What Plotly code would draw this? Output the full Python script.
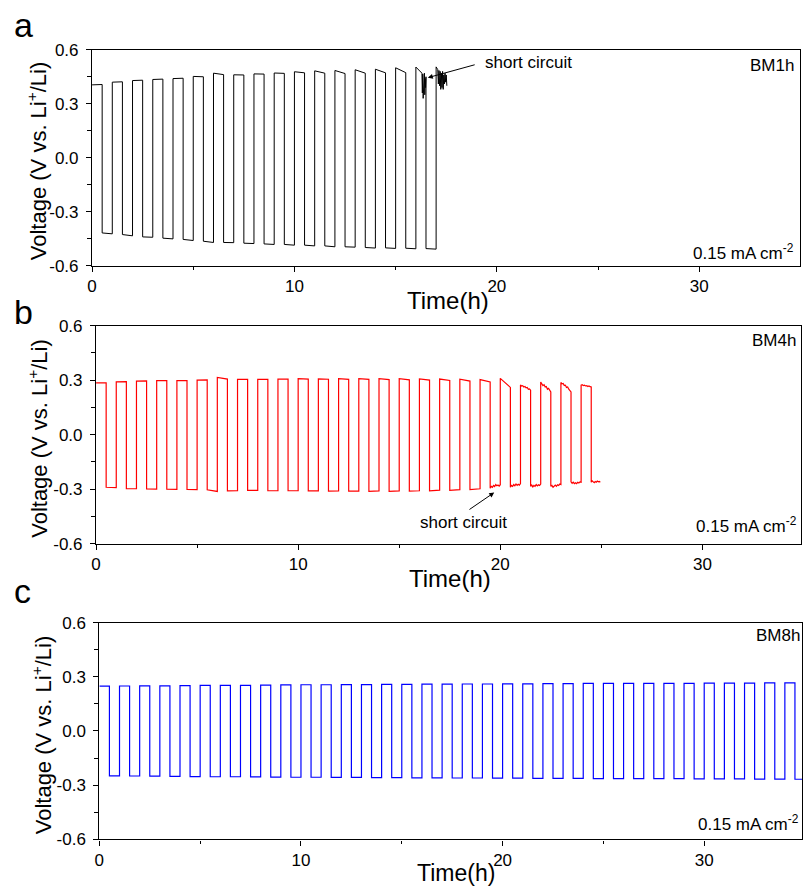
import plotly.graph_objects as go

W, H = 803, 904
FONT = "Liberation Sans, Arial, sans-serif"

# ---------------- data ----------------
HALF = 0.5  # half-cycle duration (h)

# Panel a : BM1h (black)
a_top_start = [0.405, 0.420, 0.429, 0.435, 0.440, 0.452, 0.470, 0.461, 0.466, 0.471,
               0.478, 0.483, 0.485, 0.489, 0.492, 0.500]
a_top_end = [0.407, 0.422, 0.431, 0.437, 0.442, 0.450, 0.462, 0.460, 0.465, 0.469,
             0.472, 0.470, 0.468, 0.470, 0.472, 0.473]
a_bot_start = [-0.418, -0.427, -0.440, -0.447, -0.454, -0.464, -0.471, -0.475, -0.479, -0.482,
               -0.486, -0.490, -0.495, -0.499, -0.501, -0.503]
a_bot_end = [-0.423, -0.434, -0.442, -0.451, -0.460, -0.471, -0.472, -0.477, -0.482, -0.486,
             -0.490, -0.495, -0.497, -0.502, -0.504, -0.506]
# last cycles with the short circuit
a_tail_t = [16.0, 16.30, 16.32, 16.34, 16.36, 16.38, 16.40, 16.42, 16.44, 16.46, 16.48, 16.50,
            16.50, 17.0, 17.0, 17.08, 17.11, 17.14, 17.17, 17.20, 17.23, 17.26, 17.29, 17.32,
            17.35, 17.38, 17.41, 17.44, 17.47, 17.50, 17.53]
a_tail_v = [0.504, 0.470, 0.36, 0.465, 0.33, 0.45, 0.37, 0.47, 0.35, 0.44, 0.39, 0.45,
            -0.505, -0.508, 0.505, 0.490, 0.41, 0.485, 0.40, 0.48, 0.38, 0.47, 0.39, 0.48,
            0.38, 0.46, 0.41, 0.47, 0.42, 0.46, 0.40]

# Panel b : BM4h (red)
b_top_start = [0.285, 0.291, 0.295, 0.297, 0.297, 0.300, 0.315, 0.304, 0.304, 0.306,
               0.308, 0.307, 0.308, 0.308, 0.308, 0.308, 0.307, 0.306, 0.305, 0.303]
b_top_end = [0.285, 0.292, 0.296, 0.297, 0.298, 0.301, 0.306, 0.305, 0.305, 0.306,
             0.306, 0.305, 0.304, 0.304, 0.303, 0.302, 0.300, 0.298, 0.295, 0.290]
b_bot_start = [-0.290, -0.297, -0.299, -0.300, -0.302, -0.304, -0.310, -0.307, -0.309, -0.309,
               -0.310, -0.311, -0.311, -0.312, -0.312, -0.311, -0.310, -0.307, -0.303]
b_bot_end = [-0.292, -0.298, -0.300, -0.301, -0.303, -0.313, -0.309, -0.307, -0.308, -0.309,
             -0.310, -0.310, -0.311, -0.310, -0.310, -0.309, -0.306, -0.303, -0.298]
# noisy plateaus after the short circuit (cycles 19..24)
b_late_bot = [
    [-0.295, -0.285, -0.290, -0.280, -0.286, -0.275, -0.282, -0.278, -0.284, -0.276],
    [-0.290, -0.280, -0.285, -0.275, -0.282, -0.272, -0.280, -0.274, -0.278, -0.270],
    [-0.285, -0.278, -0.288, -0.280, -0.285, -0.275, -0.282, -0.276, -0.280, -0.272],
    [-0.285, -0.280, -0.290, -0.282, -0.278, -0.285, -0.276, -0.280, -0.272, -0.275],
    [-0.260, -0.268, -0.262, -0.270, -0.265, -0.270, -0.262, -0.266, -0.260, -0.262],
    [-0.262, -0.255, -0.260, -0.265, -0.258, -0.262, -0.256, -0.260, -0.258, -0.262],
]
b_late_top = [
    [0.310, 0.305, 0.300, 0.290, 0.285, 0.280, 0.275, 0.270, 0.265, 0.260],
    [0.273, 0.268, 0.270, 0.262, 0.265, 0.258, 0.260, 0.250, 0.252, 0.245],
    [0.290, 0.283, 0.270, 0.275, 0.262, 0.265, 0.250, 0.255, 0.240, 0.235],
    [0.287, 0.280, 0.282, 0.270, 0.272, 0.260, 0.262, 0.250, 0.245, 0.235],
    [0.272, 0.275, 0.270, 0.272, 0.268, 0.270, 0.265, 0.268, 0.264, 0.262],
]
b_last_bot_len = 0.45  # last plateau duration (h)

# Panel c : BM8h (blue)
c_top = [0.248, 0.249, 0.250, 0.250, 0.251, 0.252, 0.253, 0.253, 0.254, 0.255,
         0.256, 0.256, 0.257, 0.257, 0.258, 0.258, 0.259, 0.259, 0.260, 0.260,
         0.261, 0.261, 0.262, 0.262, 0.263, 0.263, 0.263, 0.264, 0.264, 0.264,
         0.265, 0.265, 0.265, 0.266, 0.266]
c_bot = [-0.248, -0.249, -0.250, -0.251, -0.252, -0.253, -0.253, -0.254, -0.255, -0.256,
         -0.256, -0.257, -0.257, -0.258, -0.258, -0.259, -0.259, -0.260, -0.260, -0.261,
         -0.261, -0.262, -0.262, -0.262, -0.263, -0.263, -0.264, -0.264, -0.264, -0.265,
         -0.265, -0.265, -0.266, -0.266, -0.267]

y_tickvals = [-0.6, -0.3, 0.0, 0.3, 0.6]
y_ticktext = ["-0.6", "-0.3", "0.0", "0.3", "0.6"]
y_minor = [-0.45, -0.15, 0.15, 0.45]
x_tickvals = [0, 10, 20, 30]
x_ticktext = ["0", "10", "20", "30"]
x_minor = [5, 15, 25]


# ---------------- helpers ----------------
def square_wave(top_s, top_e, bot_s, bot_e):
    t, v = [], []
    for i in range(len(top_s)):
        t0 = 2 * i * HALF
        t += [t0, t0 + HALF]
        v += [top_s[i], top_e[i]]
        if i < len(bot_s):
            t += [t0 + HALF, t0 + 2 * HALF]
            v += [bot_s[i], bot_e[i]]
    return t, v


def spread(t0, dur, vals):
    n = len(vals)
    return [t0 + dur * j / (n - 1) for j in range(n)], list(vals)


# panel a
ta, va = square_wave(a_top_start, a_top_end, a_bot_start, a_bot_end)
ta += a_tail_t
va += a_tail_v

# panel b
tb, vb = square_wave(b_top_start, b_top_end, b_bot_start, b_bot_end)
first = len(b_bot_start)  # cycle 19
for k, bot in enumerate(b_late_bot):
    cyc = first + k
    dur = HALF if k < len(b_late_top) else b_last_bot_len
    tt, vv = spread(cyc + HALF, dur, bot)
    tb += tt
    vb += vv
    if k < len(b_late_top):
        tt, vv = spread(cyc + 1, HALF, b_late_top[k])
        tb += tt
        vb += vv

# panel c
tc, vc = square_wave(c_top, c_top, c_bot, c_bot)

# ---------------- figure ----------------
fig = go.Figure()
fig.add_trace(go.Scatter(x=ta, y=va, mode="lines", line=dict(color="black", width=1),
                         xaxis="x", yaxis="y", showlegend=False))
fig.add_trace(go.Scatter(x=tb, y=vb, mode="lines", line=dict(color="#ff0000", width=1.2),
                         xaxis="x2", yaxis="y2", showlegend=False))
fig.add_trace(go.Scatter(x=tc, y=vc, mode="lines", line=dict(color="#0000ff", width=1.2),
                         xaxis="x3", yaxis="y3", showlegend=False))

# screen-pixel -> paper fraction (calibrated for the capture)
SX, OX = 0.992, 4.0
SY, OY = 0.984, 6.0


def px_x(p):
    return ((p - OX) / SX) / W


def px_y(p):
    return 1 - ((p - OY) / SY) / H


panels = [
    # (x0, x1, ytop, ybot, xmax)  in screen pixels of the reference
    (91, 799, 47, 264, 35.0),
    (95, 800, 324.3, 543.3, 34.9),
    (98.3, 803, 622.7, 840.7, 34.85),
]

axis_common = dict(showgrid=False, zeroline=False, showline=True, linecolor="black",
                   linewidth=1.2, mirror=True, ticks="outside", ticklen=5, tickwidth=1.2,
                   tickcolor="black", tickfont=dict(family=FONT, size=17, color="black"))

layout = dict(width=W, height=H, autosize=False, margin=dict(l=0, r=0, t=0, b=0),
              paper_bgcolor="white", plot_bgcolor="white", showlegend=False)

for i, (x0, x1, yt, yb, xmax) in enumerate(panels):
    sx = "" if i == 0 else str(i + 1)
    layout["xaxis" + sx] = dict(axis_common, domain=[px_x(x0), min(1.0, px_x(x1))],
                                range=[0, xmax],
                                anchor="y" + sx, tickmode="array", tickvals=x_tickvals,
                                ticktext=x_ticktext,
                                minor=dict(tickmode="array", tickvals=x_minor, ticklen=3,
                                           ticks="outside", tickcolor="black"))
    layout["yaxis" + sx] = dict(axis_common, domain=[px_y(yb), px_y(yt)], range=[-0.6, 0.6],
                                anchor="x" + sx, tickmode="array", tickvals=y_tickvals,
                                ticktext=y_ticktext, ticklabelstandoff=4,
                                minor=dict(tickmode="array", tickvals=y_minor, ticklen=4,
                                           ticks="outside", tickcolor="black"))

fig.update_layout(**layout)


def ann(text, x, y, size, xanchor="center", yanchor="middle", angle=0):
    fig.add_annotation(text=text, x=px_x(x), y=px_y(y), xref="paper", yref="paper",
                       showarrow=False, xanchor=xanchor, yanchor=yanchor, textangle=angle,
                       font=dict(family=FONT, size=size, color="black"))


# panel letters
ann("a", 11, 22, 34, xanchor="left")
ann("b", 11, 311, 34, xanchor="left")
ann("c", 11, 591, 34, xanchor="left")

# y titles
ytitle = "Voltage (V vs. Li<sup>+</sup>/Li)"
ann(ytitle, 36, 159, 22, angle=-90)
ann(ytitle, 37, 438, 22, angle=-90)
ann(ytitle, 41, 736, 22, angle=-90)

# x titles
ann("Time(h)", 447, 299, 24)
ann("Time(h)", 449, 578, 24)
ann("Time(h)", 455, 874, 23)

# sample labels and current density
ann("BM1h", 795, 63, 17, xanchor="right")
ann("BM4h", 797, 339, 17, xanchor="right")
ann("BM8h", 801, 636, 17, xanchor="right")
cd = "0.15 mA cm<sup>-2</sup>"
ann(cd, 795, 250, 17, xanchor="right")
ann(cd, 798, 525, 17, xanchor="right")
ann(cd, 800, 824, 17, xanchor="right")

# short circuit labels and arrows
fig.add_annotation(text="short circuit", x=19.3, y=0.531, xref="x", yref="y",
                   showarrow=False, xanchor="left", yanchor="middle",
                   font=dict(family=FONT, size=17, color="black"))
fig.add_annotation(text="", x=16.59, y=0.445, ax=18.98, ay=0.519, xref="x", yref="y",
                   axref="x", ayref="y", showarrow=True, arrowhead=2, arrowsize=1,
                   arrowwidth=1, arrowcolor="black")
fig.add_annotation(text="short circuit", x=18.17, y=-0.483, xref="x2", yref="y2",
                   showarrow=False, xanchor="center", yanchor="middle",
                   font=dict(family=FONT, size=17, color="black"))
fig.add_annotation(text="", x=19.7, y=-0.319, ax=18.4, ay=-0.418, xref="x2", yref="y2",
                   axref="x2", ayref="y2", showarrow=True, arrowhead=2, arrowsize=1,
                   arrowwidth=1, arrowcolor="black")

fig.write_html("out.html", config={"displayModeBar": False},
               post_script="document.body.style.margin='0';"
                           "document.documentElement.style.overflow='hidden';")
